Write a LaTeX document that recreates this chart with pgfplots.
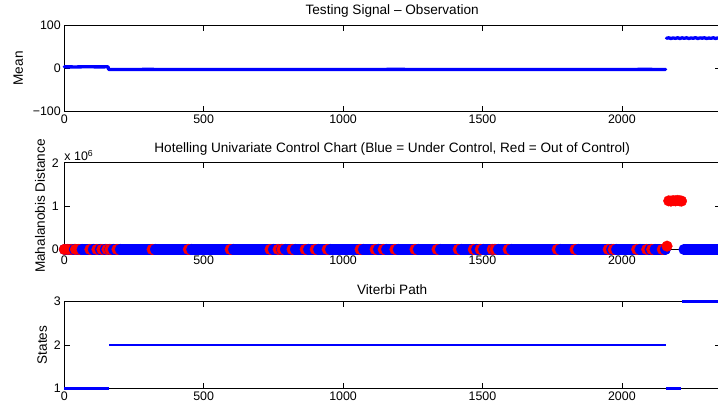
\documentclass[border=0pt]{standalone}
\usepackage{fontspec}
\setmainfont{Liberation Sans}
\usepackage{pgfplots}
\pgfplotsset{compat=1.18}
\pgfplotsset{
  mystyle/.style={
    scale only axis, width=655.7pt, height=86.7pt,
    xmin=0, xmax=2352,
    xtick={0,500,1000,1500,2000}, xticklabels={0,500,1000,1500,2000},
    tick align=inside, major tick length=5.5pt,
    axis line style={line width=0.8pt},
    every tick/.style={black, line width=0.6pt},
    tick label style={font=\fontsize{12.4}{14}\selectfont},
    /pgf/number format/assume math mode=true,
    label style={font=\fontsize{13.6}{15}\selectfont},
    title style={font=\fontsize{13.6}{15}\selectfont, yshift=-2pt},
    clip=false,
    anchor=north west,
  }
}
\begin{document}
\begin{tikzpicture}
% ---------- top ----------
\begin{axis}[mystyle, at={(64.3pt,-25pt)},
  ymin=-100, ymax=100, ytick={-100,0,100}, yticklabels={−100,0,100},
  title={Testing Signal – Observation}, ylabel={Mean},
  ylabel style={yshift=3pt}]
\addplot[blue, line width=3.3pt, line cap=round, line join=round] coordinates {
(0,3.5) (40,3.3) (80,3.6) (120,3.4) (157,3.5) (159,-2.5) (300,-2.4) (600,-2.6) (900,-2.5)
(1200,-2.4) (1500,-2.6) (1800,-2.5) (2100,-2.4) (2157,-2.5)};
\addplot[blue, line width=3.3pt, line cap=round, line join=round] coordinates {
(2160,69.5) (2168,70.4) (2176,68.9) (2184,70.2) (2192,69.1) (2200,70.6) (2208,68.9)
(2216,70.4) (2224,69.3) (2232,70.5) (2240,68.9) (2248,70.1) (2256,69.4) (2264,70.8)
(2272,68.8) (2280,70.3) (2288,69.6) (2296,70.5) (2304,68.9) (2312,70.0) (2320,69.2)
(2328,70.6) (2336,68.8) (2344,70.2) (2352,69.5) (2360,70.1)};
\end{axis}
% ---------- middle ----------
\begin{axis}[mystyle, at={(64.3pt,-162.7pt)},
  ymin=0, ymax=2, ytick={0,1,2}, yticklabels={0,1,2},
  xticklabel style={yshift=-2.5pt},
  yticklabel style={xshift=-2pt},
  title={Hotelling Univariate Control Chart (Blue = Under Control, Red = Out of Control)},
  ylabel={Mahalanobis Distance}]
\addplot[blue, line width=10.6pt, line cap=round] coordinates {(0,0) (2156,0)};
\addplot[blue, line width=10.6pt, line cap=round] coordinates {(2222,0) (2365,0)};
\addplot[scatter, only marks, mark size=5.3pt, scatter src=explicit symbolic,
  scatter/classes={r={mark=*,red}, b={mark=*,blue}}] table[x=x, y=y, meta=c] {
x y c
0 0 r
12 0 r
24 0 r
36 0 b
40 0 r
52 0 r
64 0 b
92 0 r
104 0 b
117 0 r
129 0 b
135 0 r
147 0 b
153 0 r
163 0 b
164 0 r
176 0 b
189 0 r
201 0 b
315 0 r
327 0 b
445 0 r
457 0 b
595 0 r
607 0 b
738 0 r
750 0 b
767 0 r
779 0 b
781 0 r
793 0 b
817 0 r
829 0 b
864 0 r
876 0 b
900 0 r
912 0 b
943 0 r
955 0 b
1061 0 r
1073 0 b
1115 0 r
1127 0 b
1144 0 r
1156 0 b
1186 0 r
1198 0 b
1258 0 r
1270 0 b
1337 0 r
1349 0 b
1413 0 r
1425 0 b
1467 0 r
1479 0 b
1492 0 r
1504 0 b
1535 0 r
1544 0 b
1545 0 r
1557 0 b
1592 0 r
1604 0 b
1768 0 r
1780 0 b
1832 0 r
1844 0 b
1951 0 r
1963 0 b
1969 0 r
1981 0 b
2053 0 r
2065 0 b
2089 0 r
2101 0 b
2107 0 r
2119 0 b
2145 0 r
2156 0 b
};
\addplot[only marks, mark=*, red, mark size=5.3pt] coordinates {
(2168,1.12) (2176,1.115) (2184,1.125) (2192,1.12) (2200,1.13) (2208,1.12) (2214,1.115)};
\addplot[only marks, mark=*, red, mark size=5.3pt] coordinates {(2162,0.075)};
\node[anchor=base west, font=\fontsize{12.4}{14}\selectfont, inner sep=0pt]
  at ([yshift=2pt]rel axis cs:0,1) {x 10\textsuperscript{6}};
\end{axis}
% ---------- bottom ----------
\begin{axis}[mystyle, at={(64.3pt,-301.7pt)},
  ymin=1, ymax=3, ytick={1,2,3}, yticklabels={1,2,3},
  title={Viterbi Path}, ylabel={States}]
\addplot[blue, line width=2.8pt] coordinates {(0,1) (160,1)};
\addplot[blue, line width=2.8pt] coordinates {(162,2) (2158,2)};
\addplot[blue, line width=2.8pt] coordinates {(2160,1) (2213,1)};
\addplot[blue, line width=2.8pt] coordinates {(2215,3) (2365,3)};
\end{axis}
\pgfresetboundingbox
\path[use as bounding box] (0pt,0pt) rectangle (718pt,-410pt);
\end{tikzpicture}
\end{document}
